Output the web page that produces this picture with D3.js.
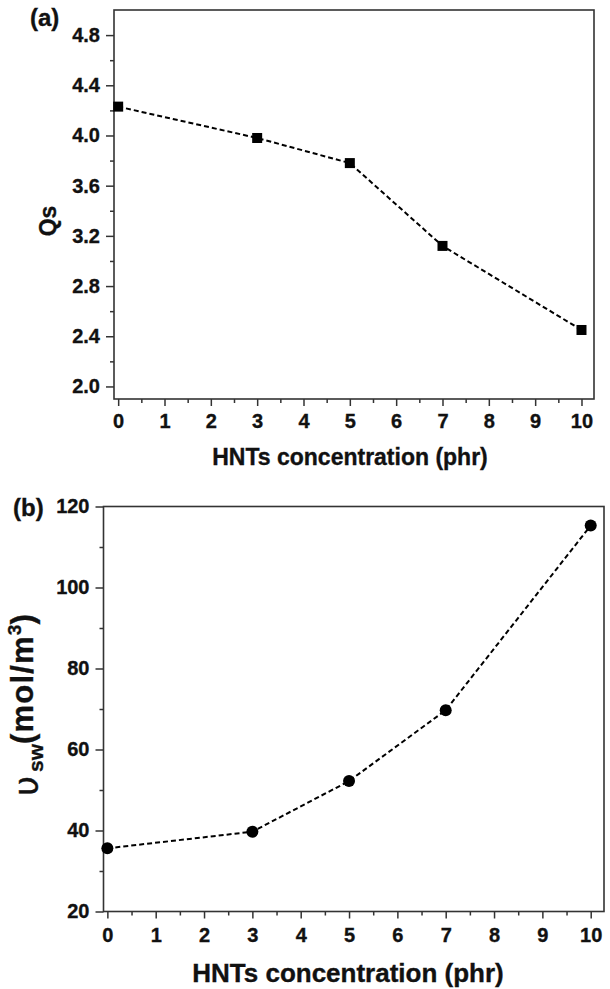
<!DOCTYPE html>
<html>
<head>
<meta charset="utf-8">
<script src="https://cdn.jsdelivr.net/npm/d3@7"></script>
<style>
  html, body { margin: 0; padding: 0; background: #fff; }
  svg { display: block; }
  text { font-family: "Liberation Sans", Arial, sans-serif; font-weight: bold; fill: #111; stroke: #111; stroke-width: 0.35px; }
</style>
</head>
<body>
<script>
// ---- Data ----
const concentration = [0, 3, 5, 7, 10];
const qsValues = [4.23, 3.98, 3.78, 3.12, 2.45];
const crosslinkValues = [35.6, 39.7, 52.2, 69.7, 115.3];

const xTickValues = [0, 1, 2, 3, 4, 5, 6, 7, 8, 9, 10];
const xMinorTicks = [0.5, 1.5, 2.5, 3.5, 4.5, 5.5, 6.5, 7.5, 8.5, 9.5];
const qsTickValues = [2.0, 2.4, 2.8, 3.2, 3.6, 4.0, 4.4, 4.8];
const qsMinorTicks = [2.2, 2.6, 3.0, 3.4, 3.8, 4.2, 4.6];
const nuTickValues = [20, 40, 60, 80, 100, 120];
const nuMinorTicks = [30, 50, 70, 90, 110];

const xLabel = "HNTs concentration (phr)";

const W = 610, H = 989;
const svg = d3.select("body").append("svg").attr("width", W).attr("height", H);

function panel(cfg) {
  const g = svg.append("g");
  const x = d3.scaleLinear().domain(cfg.xDomain).range(cfg.xRange);
  const y = d3.scaleLinear().domain(cfg.yDomain).range(cfg.yRange);
  const [x0, x1] = cfg.xRange, [y0, y1] = cfg.yRange;

  // minor ticks
  g.append("g").attr("transform", `translate(0,${y0})`)
    .call(d3.axisBottom(x).tickValues(xMinorTicks).tickSize(4).tickFormat(""))
    .call(s => s.select(".domain").remove());
  g.append("g").attr("transform", `translate(${x0},0)`)
    .call(d3.axisLeft(y).tickValues(cfg.yMinor).tickSize(4).tickFormat(""))
    .call(s => s.select(".domain").remove());

  // major x axis
  const xa = g.append("g").attr("transform", `translate(0,${y0})`)
    .call(d3.axisBottom(x).tickValues(xTickValues).tickSize(7).tickPadding(cfg.xPad).tickFormat(d3.format("d")));
  xa.select(".domain").remove();
  xa.selectAll("text").style("font-size", cfg.tickFont + "px");

  const ya = g.append("g").attr("transform", `translate(${x0},0)`)
    .call(d3.axisLeft(y).tickValues(cfg.yTicks).tickSize(8).tickPadding(6).tickFormat(cfg.yFmt));
  ya.select(".domain").remove();
  ya.selectAll("text").style("font-size", cfg.tickFont + "px");

  g.selectAll(".tick line").attr("stroke", "#333").attr("stroke-width", 1.5);

  // frame
  g.append("rect").attr("x", x0).attr("y", y1).attr("width", x1 - x0).attr("height", y0 - y1)
    .attr("fill", "none").attr("stroke", "#333").attr("stroke-width", 1.6);

  // line
  const line = d3.line().x((d, i) => x(concentration[i])).y(d => y(d));
  g.append("path").datum(cfg.values).attr("d", line)
    .attr("fill", "none").attr("stroke", "#000").attr("stroke-width", 2)
    .attr("stroke-dasharray", "5,3");

  // markers
  if (cfg.marker === "square") {
    g.selectAll("rect.m").data(cfg.values).enter().append("rect").attr("class", "m")
      .attr("x", (d, i) => x(concentration[i]) - 5).attr("y", d => y(d) - 5)
      .attr("width", 10).attr("height", 10).attr("fill", "#000");
  } else {
    g.selectAll("circle.m").data(cfg.values).enter().append("circle").attr("class", "m")
      .attr("cx", (d, i) => x(concentration[i])).attr("cy", d => y(d))
      .attr("r", 6).attr("fill", "#000");
  }

  // x label
  g.append("text").attr("x", cfg.xLabelX).attr("y", cfg.xLabelY)
    .attr("text-anchor", "middle").style("font-size", cfg.labelFont + "px").text(xLabel);
  // panel letter
  g.append("text").attr("x", cfg.letterX).attr("y", cfg.letterY)
    .style("font-size", "24px").text(cfg.letter);
  return { g, x, y };
}

// Panel (a)
const a = panel({
  xDomain: [-0.09, 10.27], xRange: [114, 594],
  yDomain: [1.9, 5.0], yRange: [399, 10],
  yTicks: qsTickValues, yMinor: qsMinorTicks, yFmt: d3.format(".1f"),
  values: qsValues, marker: "square", tickFont: 20, xPad: 8,
  labelFont: 23, xLabelX: 350, xLabelY: 465, letter: "(a)", letterX: 30, letterY: 26
});
a.g.append("text").attr("transform", "translate(56,221) rotate(-90)")
  .attr("text-anchor", "middle").style("font-size", "23px").text("Qs");

// Panel (b)
const b = panel({
  xDomain: [-0.08, 10.275], xRange: [103.5, 604],
  yDomain: [20, 120], yRange: [911.5, 506.5],
  yTicks: nuTickValues, yMinor: nuMinorTicks, yFmt: d3.format("d"),
  values: crosslinkValues, marker: "circle", tickFont: 20, xPad: 9,
  labelFont: 26, xLabelX: 348, xLabelY: 982, letter: "(b)", letterX: 13, letterY: 516
});
const lab = b.g.append("text").attr("transform", "translate(33,705) rotate(-90)")
  .attr("text-anchor", "middle").style("font-size", "31px");
lab.append("tspan").style("font-family", "'DejaVu Sans'").style("font-weight", "normal")
  .style("font-size", "34px").attr("dy", 5).text("υ");
lab.append("tspan").attr("dx", 4).attr("dy", 5).style("font-size", "21px").text("sw");
lab.append("tspan").attr("dy", -10).style("letter-spacing", "1.2px").text("(mol/m");
lab.append("tspan").attr("dy", -12).style("font-size", "19px").text("3");
lab.append("tspan").attr("dy", 12).text(")");
</script>
</body>
</html>
